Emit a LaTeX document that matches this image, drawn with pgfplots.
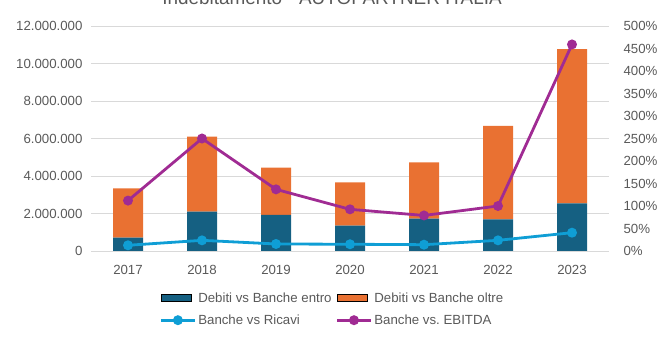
\documentclass[border=0pt]{standalone}
\usepackage{pgfplots}
\pgfplotsset{compat=1.18}
\usepackage{fontspec}
\setmainfont{Liberation Sans}
\frenchspacing
\definecolor{cblue}{HTML}{156082}
\definecolor{corange}{HTML}{E97132}
\definecolor{clight}{HTML}{0F9ED5}
\definecolor{cpurple}{HTML}{A02B93}
\definecolor{ctick}{HTML}{595959}
\definecolor{cgrid}{HTML}{D9D9D9}

\pgfplotstableread{
x entro oltre ricavi ebitda
0 710000  2630000 0.127 1.12
1 2100000 4000000 0.237 2.50
2 1920000 2520000 0.156 1.37
3 1350000 2310000 0.150 0.926
4 1720000 3010000 0.140 0.79
5 1690000 4980000 0.237 1.00
6 2540000 8230000 0.407 4.59
}\datatable

\pgfplotsset{
  barleg/.style={legend image code/.code={\fill[##1] (0bp,-3.5bp) rectangle (30bp,3.5bp);}},
  lineleg/.style={legend image code/.code={\draw[##1] (0bp,0bp) -- (34bp,0bp); \draw[##1] plot[mark=*, mark size=3.5bp] coordinates {(17bp,0bp)};}},
  common/.style={
    scale only axis, width=518bp, height=225bp,
    at={(91bp,97bp)}, anchor=south west,
    xmin=-0.5, xmax=6.5,
    axis line style={draw=none}, tick style={draw=none},
    ticklabel style={font=\fontsize{13.3}{16}\selectfont, text=ctick},
  }
}

\begin{document}
\begin{tikzpicture}
\path[use as bounding box] (0bp,0bp) rectangle (667bp,348bp);
\node[anchor=base, font=\fontsize{19}{22}\selectfont, text=ctick] at (332bp,343bp) {Indebitamento - AUTOPARTNER ITALIA};
\begin{axis}[common,
  ybar stacked, bar width=30bp,
  ymin=0, ymax=12000000,
  ytick={0,2000000,4000000,6000000,8000000,10000000,12000000},
  yticklabels={0,2.000.000,4.000.000,6.000.000,8.000.000,10.000.000,12.000.000},
  scaled y ticks=false,
  ymajorgrids, grid style={cgrid, line width=0.8bp},
  xtick={0,...,6}, xticklabels={2017,2018,2019,2020,2021,2022,2023},
  yticklabel style={xshift=-5bp},
  xticklabel style={yshift=-11bp},
]
\addplot[fill=cblue, draw=none] table[x=x, y=entro] {\datatable};
\addplot[fill=corange, draw=none] table[x=x, y=oltre] {\datatable};
\end{axis}
\begin{axis}[common,
  axis y line*=right, axis x line=none,
  ymin=0, ymax=5,
  ytick={0,0.5,1,1.5,2,2.5,3,3.5,4,4.5,5},
  yticklabels={0\%,50\%,100\%,150\%,200\%,250\%,300\%,350\%,400\%,450\%,500\%},
  yticklabel style={xshift=11bp, anchor=west},
  legend style={at={(0.466,-0.175)}, anchor=north, draw=none, fill=none,
    font=\fontsize{13.3}{16}\selectfont, text=ctick,
    legend columns=2, row sep=7bp,
    /tikz/every even column/.append style={column sep=2bp},
    legend cell align=left, inner sep=0pt},
]
\addlegendimage{barleg, fill=cblue}
\addlegendentry{Debiti vs Banche entro}
\addlegendimage{barleg, fill=corange}
\addlegendentry{Debiti vs Banche oltre}
\addplot[lineleg, clight, line width=2.8bp, mark=*, mark size=3.5bp] table[x=x, y=ricavi] {\datatable};
\addlegendentry{Banche vs Ricavi}
\addplot[lineleg, cpurple, line width=2.8bp, mark=*, mark size=3.5bp] table[x=x, y=ebitda] {\datatable};
\addlegendentry{Banche vs.\ EBITDA}
\end{axis}
\end{tikzpicture}
\end{document}
